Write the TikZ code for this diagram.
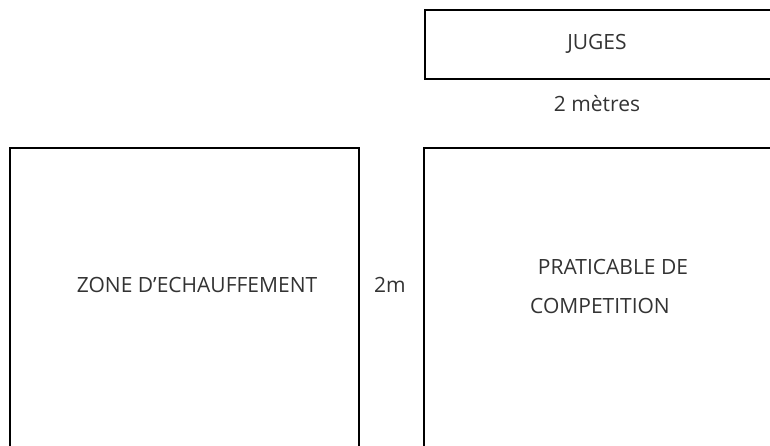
\documentclass[tikz,border=0pt]{standalone}
\usepackage{fontspec}
\setmainfont{Open Sans}
\usepackage{tikz}
\tikzset{
	zone/.style={line width=2pt, color=black},
	lbl/.style={font=\fontsize{21}{24}\selectfont, text=black!80, inner sep=0pt}
}

\begin{document}
\begin{tikzpicture}[x=1pt, y=-1pt]
		%%%%% START %%%%%
		
		\useasboundingbox (0, 0) rectangle (770, 446);
		\clip (0, 0) rectangle (770, 446);
		
		\draw[zone] (424.5, 10) rectangle (790, 79);
		\node[lbl] (juges) at (597, 44) {JUGES};
		\node[lbl] (deuxmetres) at (597, 104) {2 mètres};
		
		\draw[zone] (9.5, 148) rectangle (358.5, 470);
		\node[lbl] (echauffement) at (197, 285) {ZONE D’ECHAUFFEMENT};
		
		\node[lbl] (deuxm) at (390, 285) {2m};
		
		\draw[zone] (423.5, 148) rectangle (790, 470);
		\node[lbl] (praticable) at (613, 267) {PRATICABLE DE};
		\node[lbl] (competition) at (600, 306) {COMPETITION};
		
		%%%%% END %%%%%
	\end{tikzpicture}
\end{document}
